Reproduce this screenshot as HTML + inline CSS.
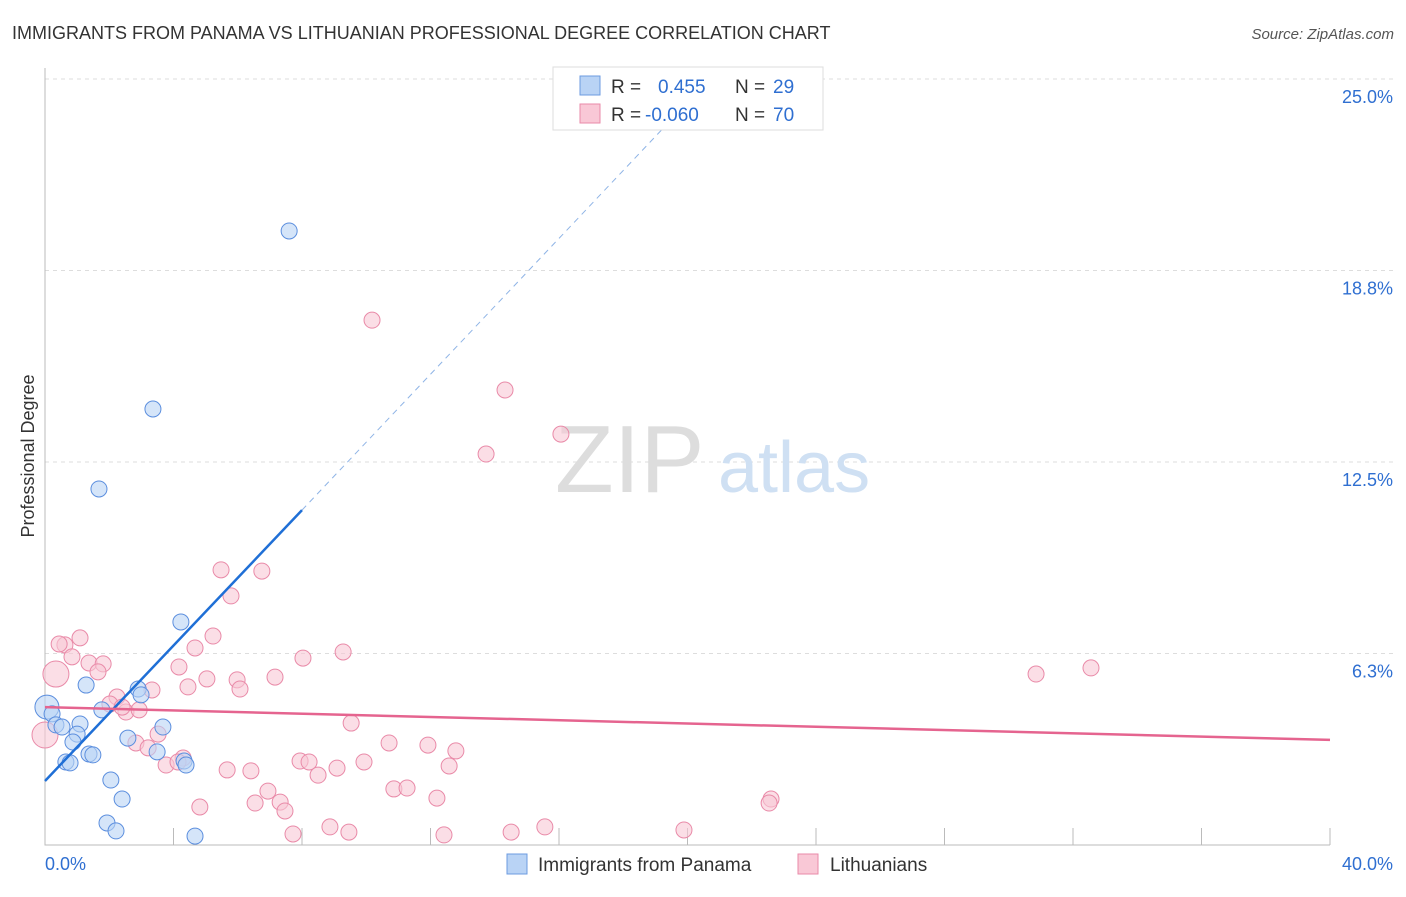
<!DOCTYPE html>
<html><head><meta charset="utf-8">
<style>
body{margin:0;background:#fff;font-family:"Liberation Sans",sans-serif;}
svg text{font-family:"Liberation Sans",sans-serif;}
</style></head>
<body>
<svg width="1406" height="892" viewBox="0 0 1406 892" xmlns="http://www.w3.org/2000/svg">
<text x="12" y="39" font-size="18" fill="#333">IMMIGRANTS FROM PANAMA VS LITHUANIAN PROFESSIONAL DEGREE CORRELATION CHART</text>
<text x="1394" y="39" font-size="15" fill="#555" font-style="italic" text-anchor="end">Source: ZipAtlas.com</text>
<g id="grid"></g>
<text x="555" y="492" font-size="96" fill="#ddd" font-family="Liberation Serif">ZIP</text>
<text x="718" y="492" font-size="72" fill="#cfe0f3">atlas</text>
<text transform="translate(34,456) rotate(-90)" font-size="18" fill="#333" text-anchor="middle">Professional Degree</text>
<g id="points"></g>
<g id="lines"></g>
<g>
<rect x="553" y="67" width="270" height="63" fill="#fff" stroke="#ddd"/>
<rect x="580" y="76" width="20" height="19" fill="#b9d3f5" stroke="#6c9be0"/>
<rect x="580" y="104" width="20" height="19" fill="#f9c8d6" stroke="#e98aa8"/>
<text x="611" y="93" font-size="19" fill="#333">R = </text><text x="658" y="93" font-size="19" fill="#2f6fd1">0.455</text>
<text x="735" y="93" font-size="19" fill="#333">N = </text><text x="773" y="93" font-size="19" fill="#2f6fd1">29</text>
<text x="611" y="121" font-size="19" fill="#333">R = </text><text x="645" y="121" font-size="19" fill="#2f6fd1">-0.060</text>
<text x="735" y="121" font-size="19" fill="#333">N = </text><text x="773" y="121" font-size="19" fill="#2f6fd1">70</text>
</g>
<g>
<rect x="507" y="854" width="20" height="20" fill="#b9d3f5" stroke="#6c9be0"/>
<text x="538" y="871" font-size="19" fill="#333">Immigrants from Panama</text>
<rect x="798" y="854" width="20" height="20" fill="#f9c8d6" stroke="#e98aa8"/>
<text x="830" y="871" font-size="19" fill="#333">Lithuanians</text>
</g>
<text x="45" y="870" font-size="18" fill="#2f6fd1">0.0%</text>
<text x="1393" y="870" font-size="18" fill="#2f6fd1" text-anchor="end">40.0%</text>
</svg>
<script>
const yTicks=[25,18.75,12.5,6.25];
const yTickLabels=["25.0%","18.8%","12.5%","6.3%"];
const xTicks=[0,4,8,12,16,20,24,28,32,36,40];
const panamaX=[7.60,3.36,1.68,4.23,1.28,2.90,2.99,0.06,0.22,0.34,0.53,1.09,1.77,3.67,1.00,0.87,2.58,1.37,1.49,3.49,4.33,4.39,0.65,0.78,2.05,2.40,1.93,2.21,4.67];
const panamaY=[20.04,14.23,11.62,7.28,5.22,5.09,4.90,4.50,4.28,3.92,3.85,3.95,4.41,3.85,3.62,3.36,3.49,2.97,2.94,3.04,2.74,2.61,2.71,2.68,2.12,1.50,0.72,0.46,0.29];
const lithX=[10.18,14.32,16.06,13.73,5.48,6.75,5.79,1.09,5.23,0.62,0.84,4.67,9.28,0.44,1.37,1.81,4.17,8.03,0.34,1.65,5.04,5.98,7.16,3.33,4.45,6.07,2.24,2.02,2.52,2.93,2.40,30.85,32.56,9.53,10.71,11.92,12.79,2.83,3.21,3.52,4.30,3.77,4.14,7.94,8.22,9.09,9.93,12.58,5.67,6.41,8.50,6.94,10.86,11.27,12.20,4.82,6.54,7.32,7.47,22.60,22.54,8.87,9.46,7.72,12.42,14.51,15.56,19.89,0.0];
const lithY=[17.13,14.85,13.41,12.76,8.98,8.94,8.13,6.76,6.82,6.53,6.14,6.43,6.30,6.56,5.94,5.91,5.81,6.10,5.58,5.65,5.42,5.39,5.48,5.06,5.16,5.09,4.83,4.60,4.34,4.41,4.50,5.58,5.78,3.98,3.33,3.26,3.07,3.33,3.17,3.62,2.84,2.61,2.71,2.74,2.71,2.51,2.71,2.58,2.45,2.42,2.28,1.76,1.83,1.86,1.53,1.24,1.37,1.40,1.11,1.50,1.37,0.59,0.42,0.36,0.33,0.42,0.59,0.49,3.59];
const panamaTrend=[[0,2.09],[8.0,10.93],[20.08,24.32]];
const lithTrend=[[0,4.50],[40,3.43]];
const NS="http://www.w3.org/2000/svg";
const X=v=>45+v/40*1285, Y=v=>845-v/25*766;
function mk(tag,attrs,parent){const e=document.createElementNS(NS,tag);for(const k in attrs)e.setAttribute(k,attrs[k]);parent.appendChild(e);return e;}
const grid=document.getElementById('grid');
yTicks.forEach((t,i)=>{
 const l=mk('line',{x1:45,x2:1393,y1:Y(t),y2:Y(t),stroke:'#ddd','stroke-dasharray':'4,4'},grid);
 
 
 const tx=mk('text',{x:1393,y:Y(t)+24,'font-size':18,fill:'#2f6fd1','text-anchor':'end'},grid);
 tx.textContent=yTickLabels[i];
 
 
});
xTicks.forEach(t=>{
 const l=mk('line',{x1:X(t),x2:X(t),y1:828,y2:845,stroke:'#bbb'},grid);
 
 
});
const ax=mk('path',{d:'M45,68 V845 H1330',fill:'none',stroke:'#bbb'},grid);


const pts=document.getElementById('points');
lithX.forEach((x,i)=>{
 const big=(i==18||i==68);
 const c=mk('circle',{cx:X(x),cy:Y(lithY[i]),r:big?13:8,fill:'#f9c8d6','fill-opacity':0.6,stroke:'#e98aa8','stroke-width':1},pts);
 
 
});
panamaX.forEach((x,i)=>{
 const c=mk('circle',{cx:X(x),cy:Y(panamaY[i]),r:i==7?12:8,fill:'#b9d3f5','fill-opacity':0.6,stroke:'#5b8ede','stroke-width':1},pts);
 
 
});
const lines=document.getElementById('lines');
const pl=mk('line',{x1:X(panamaTrend[0][0]),y1:Y(panamaTrend[0][1]),x2:X(panamaTrend[1][0]),y2:Y(panamaTrend[1][1]),stroke:'#1f6fd6','stroke-width':2.5},lines);


const pd=mk('line',{x1:X(panamaTrend[1][0]),y1:Y(panamaTrend[1][1]),x2:X(panamaTrend[2][0]),y2:Y(panamaTrend[2][1]),stroke:'#8fb4e6','stroke-width':1,'stroke-dasharray':'6,5'},lines);


const ll=mk('line',{x1:X(lithTrend[0][0]),y1:Y(lithTrend[0][1]),x2:X(lithTrend[1][0]),y2:Y(lithTrend[1][1]),stroke:'#e5648f','stroke-width':2.5},lines);


</script>
</body></html>
